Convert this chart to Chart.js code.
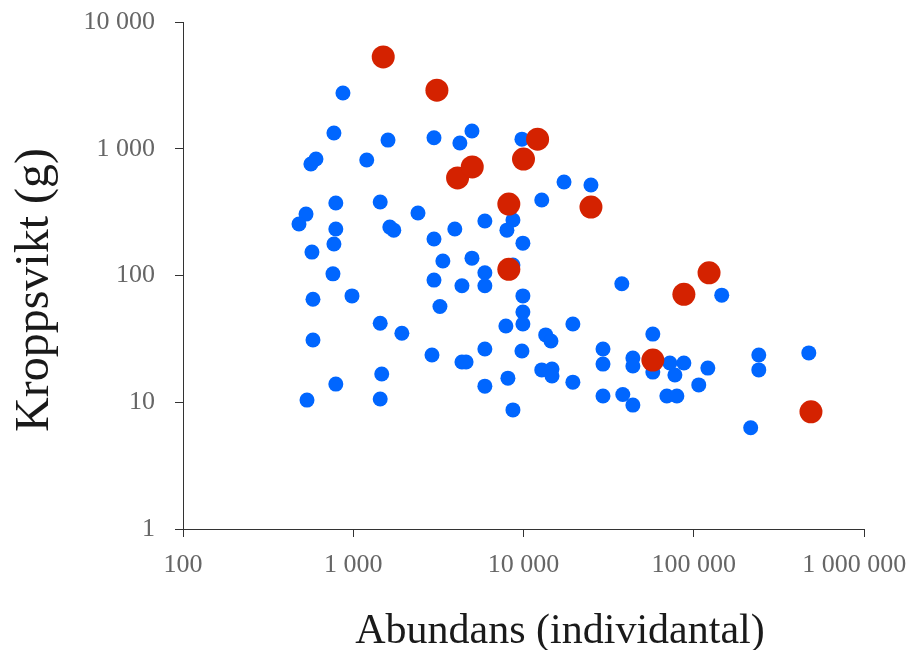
<!DOCTYPE html>
<html>
<head>
<meta charset="utf-8">
<script src="https://cdn.jsdelivr.net/npm/chart.js@4/dist/chart.umd.min.js"></script>
<style>
  html, body { margin: 0; padding: 0; background: #fff; }
  #wrap { width: 911px; height: 650px; }
</style>
</head>
<body>
<div id="wrap"><canvas id="chart" width="911" height="650"></canvas></div>
<script>
// Tick values for both log axes
const xTicks = [100, 1000, 10000, 100000, 1000000];
const yTicks = [1, 10, 100, 1000, 10000];

// Blue species: abundance (individuals) and body weight (g)
const blueAbundance = [
  870, 770, 1600, 2980, 4980, 4230, 564, 604, 1200, 790,
  1440, 528, 480, 2400, 790, 1640, 1730, 3950, 2980, 770,
  572, 3360, 4980, 760, 2980, 4350, 580, 983, 3230, 1440,
  1930, 580, 2900, 4350, 4600, 1470, 790, 535, 1440, 5930,
  5930, 5930, 5930, 5930, 9790, 17300, 24900, 12800, 8670, 7990,
  9920, 8670, 9920, 37800, 9920, 9920, 7880, 19500, 13500, 14500,
  57500, 9790, 29300, 29300, 43900, 43900, 57500, 12800, 14700, 14700,
  8100, 19500, 29300, 38300, 43900, 8670, 72400, 87500, 77500, 121000,
  107000, 69500, 79600, 146000, 241000, 241000, 474000, 216000
];
const blueWeight = [
  2750, 1330, 1170, 1220, 1380, 1110, 758, 830, 815, 373,
  380, 305, 255, 311, 233, 241, 228, 233, 194, 177,
  153, 130, 137, 103, 92, 83, 65, 69, 57, 42,
  35, 31, 23.6, 20.8, 20.8, 16.7, 13.9, 10.4, 10.6, 269,
  105, 83, 26.3, 13.4, 1190, 546, 517, 394, 274, 228,
  180, 121, 69, 86, 51.5, 41.4, 40, 41.4, 34, 30.4,
  34.5, 25.4, 26.3, 20, 22.3, 19.3, 17.3, 18, 18.3, 16.1,
  15.5, 14.4, 11.2, 11.5, 9.5, 8.7, 20.4, 20.4, 16.4, 18.6,
  13.7, 11.2, 11.2, 70, 23.6, 18, 24.5, 6.3
];

// Red (highlighted) species
const redAbundance = [1500, 3100, 12100, 10000, 4100, 5000, 8200, 24900, 8200, 123000, 87500, 57500, 488000];
const redWeight = [5300, 2900, 1190, 830, 588, 718, 366, 347, 112, 105, 71, 21.5, 8.4];

const serif = "'Liberation Serif', 'Times New Roman', serif";

function spaced(v) {
  return String(v).replace(/\B(?=(\d{3})+(?!\d))/g, ' ');
}

function toPoints(xs, ys) {
  return xs.map((x, i) => ({ x: x, y: ys[i] }));
}

// Axis titles drawn by hand so they sit where the original has them
const axisTitles = {
  id: 'axisTitles',
  afterDraw(chart) {
    const ctx = chart.ctx;
    ctx.save();
    ctx.fillStyle = '#1a1a1a';
    ctx.textAlign = 'center';
    ctx.textBaseline = 'middle';
    ctx.font = '42px ' + serif;
    ctx.fillText('Abundans (individantal)', 560, 632);
    ctx.translate(35, 290);
    ctx.rotate(-Math.PI / 2);
    ctx.font = '48px ' + serif;
    ctx.fillText('Kroppsvikt (g)', 0, 0);
    ctx.restore();
  }
};

new Chart(document.getElementById('chart'), {
  type: 'scatter',
  data: {
    datasets: [
      {
        label: 'red',
        data: toPoints(redAbundance, redWeight),
        backgroundColor: 'rgb(212,34,0)',
        borderWidth: 0,
        pointRadius: 11.5,
        order: 0
      },
      {
        label: 'blue',
        data: toPoints(blueAbundance, blueWeight),
        backgroundColor: 'rgb(0,102,255)',
        borderWidth: 0,
        pointRadius: 7.5,
        order: 1
      }
    ]
  },
  options: {
    responsive: false,
    animation: false,
    layout: { padding: { top: 22, right: 47, left: 0, bottom: 0 } },
    plugins: {
      legend: { display: false },
      tooltip: { enabled: false }
    },
    elements: { point: { hoverRadius: 0 } },
    scales: {
      x: {
        type: 'logarithmic',
        min: 100,
        max: 1000000,
        afterBuildTicks: s => { s.ticks = xTicks.map(v => ({ value: v })); },
        afterFit: s => { s.height = 121; s.paddingLeft = 0; s.paddingRight = 0; },
        grid: { drawOnChartArea: false, tickLength: 8, tickColor: '#333' },
        border: { color: '#333', width: 1 },
        ticks: {
          padding: 13,
          maxRotation: 0,
          autoSkip: false,
          color: '#666',
          font: { family: serif, size: 26 },
          // last label nudged left, as in the original
          callback: (v, i, arr) => i === arr.length - 1 ? spaced(v) + '\u00a0\u00a0\u00a0' : spaced(v)
        }
      },
      y: {
        type: 'logarithmic',
        min: 1,
        max: 10000,
        afterBuildTicks: s => { s.ticks = yTicks.map(v => ({ value: v })); },
        afterFit: s => { s.width = 183; s.paddingTop = 0; s.paddingBottom = 0; },
        grid: { drawOnChartArea: false, tickLength: 8, tickColor: '#333' },
        border: { color: '#333', width: 1 },
        ticks: {
          padding: 20,
          autoSkip: false,
          color: '#666',
          font: { family: serif, size: 26 },
          callback: v => spaced(v)
        }
      }
    }
  },
  plugins: [axisTitles]
});
</script>
</body>
</html>
